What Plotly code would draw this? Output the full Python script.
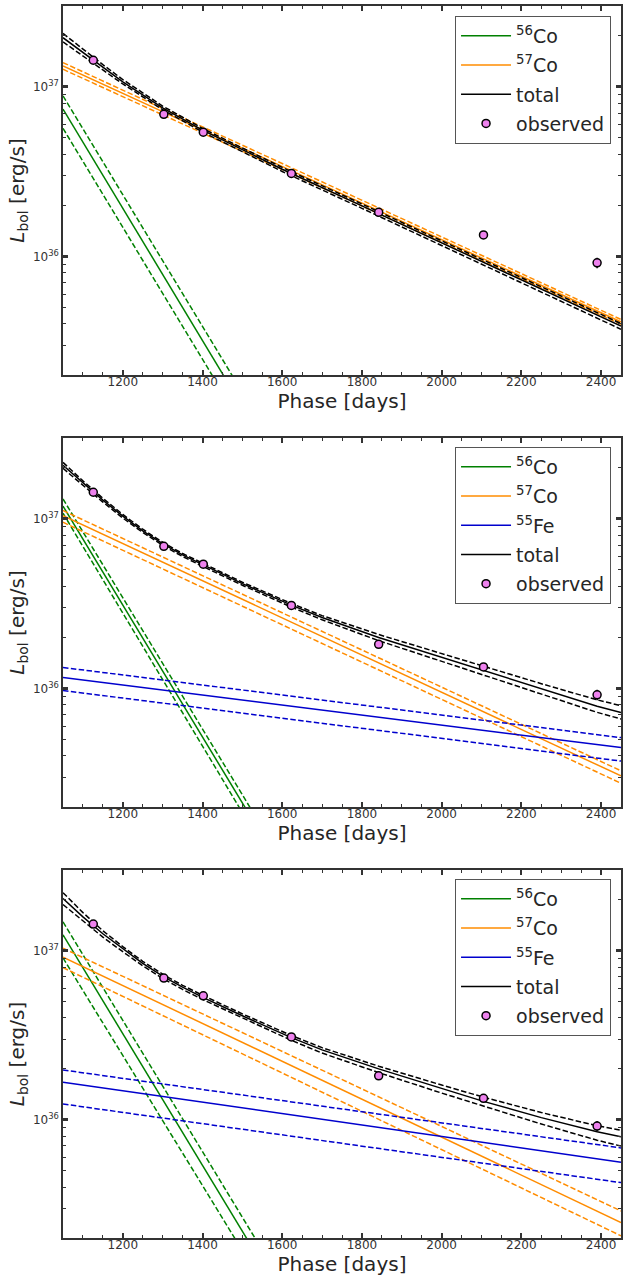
import plotly.graph_objects as go

# ---------------- data (luminosities in units of 1e36 erg/s) ----------------
UNIT = 1e36

obs_days = [1126, 1303, 1402, 1623, 1842, 2105, 2390]
obs_L = [14.36, 6.89, 5.41, 3.09, 1.82, 1.34, 0.918]
obs_err = [0.30, 0.15, 0.12, 0.07, 0.05, 0.05, 0.065]

edge_days = [1050, 2450]

# Panel 1 (56Co + 57Co)
p1_co56_days = [1050, 1500]
p1_co56 = [7.4, 0.130]
p1_co56_hi = [8.85, 0.158]
p1_co56_lo = [5.7, 0.101]
p1_co57 = [13.3, 0.411]
p1_co57_hi = [13.9, 0.425]
p1_co57_lo = [12.7, 0.398]
p1_tot_days = [1050, 1100, 1150, 1200, 1300, 1400, 1500, 1600, 1800, 2000, 2200, 2450]
p1_tot = [19.50, 15.92, 13.03, 10.72, 7.53, 5.56, 4.27, 3.27, 1.986, 1.205, 0.731, 0.389]
p1_tot_hi = [20.66, 16.67, 13.52, 11.05, 7.71, 5.69, 4.37, 3.35, 2.04, 1.239, 0.753, 0.402]
p1_tot_lo = [18.41, 15.20, 12.56, 10.40, 7.34, 5.42, 4.15, 3.17, 1.923, 1.161, 0.703, 0.372]

# Panel 2 (56Co + 57Co + 55Fe)
p2_co56_days = [1050, 1550]
p2_co56 = [11.9, 0.135]
p2_co56_hi = [13.1, 0.151]
p2_co56_lo = [10.8, 0.118]
p2_co57 = [10.45, 0.305]
p2_co57_hi = [11.2, 0.327]
p2_co57_lo = [9.55, 0.276]
p2_fe55 = [1.16, 0.448]
p2_fe55_hi = [1.33, 0.513]
p2_fe55_lo = [0.973, 0.373]
tot_days = [1050, 1100, 1150, 1200, 1250, 1303, 1350, 1402, 1500, 1623, 1700, 1842, 2000, 2105, 2250, 2390, 2450]
p2_tot = [20.70, 16.26, 12.91, 10.38, 8.51, 7.08, 6.14, 5.35, 4.15, 3.10, 2.62, 2.00, 1.524, 1.274, 0.991, 0.785, 0.721]
p2_tot_hi = [21.53, 16.75, 13.24, 10.62, 8.69, 7.21, 6.25, 5.45, 4.23, 3.17, 2.69, 2.08, 1.603, 1.356, 1.067, 0.857, 0.791]
p2_tot_lo = [19.86, 15.74, 12.56, 10.12, 8.32, 6.92, 6.00, 5.23, 4.06, 3.02, 2.54, 1.914, 1.442, 1.194, 0.921, 0.723, 0.661]

# Panel 3 (56Co + 57Co + 55Fe)
p3_co56_days = [1050, 1560]
p3_co56 = [12.4, 0.128]
p3_co56_hi = [14.8, 0.155]
p3_co56_lo = [9.06, 0.099]
p3_co57 = [9.16, 0.247]
p3_co57_hi = [10.35, 0.289]
p3_co57_lo = [7.94, 0.206]
p3_fe55 = [1.67, 0.561]
p3_fe55_hi = [1.97, 0.682]
p3_fe55_lo = [1.24, 0.425]
p3_tot = [20.32, 15.85, 12.59, 10.23, 8.41, 7.00, 6.08, 5.28, 4.12, 3.06, 2.59, 2.00, 1.528, 1.285, 1.030, 0.849, 0.793]
p3_tot_hi = [22.03, 16.79, 13.12, 10.57, 8.65, 7.18, 6.24, 5.42, 4.23, 3.15, 2.67, 2.075, 1.604, 1.361, 1.104, 0.922, 0.867]
p3_tot_lo = [18.75, 14.93, 12.02, 9.86, 8.14, 6.79, 5.90, 5.12, 3.99, 2.95, 2.48, 1.901, 1.439, 1.205, 0.944, 0.757, 0.699]

# ---------------- styling ----------------
GREEN = "#008000"
ORANGE = "#ff8c00"
BLUE = "#0000cd"
BLACK = "#000000"
LW = 1.5
DASH = "5.5px,2.4px"
FONT = "DejaVu Sans"
AXC = "#333333"


def sc(v):
    return [float(x) * UNIT for x in v]


fig = go.Figure()


def add_comp(n, days, mid, hi, lo, color, name, legend):
    xa = "x" if n == 1 else f"x{n}"
    ya = "y" if n == 1 else f"y{n}"
    for arr in (hi, lo):
        fig.add_trace(go.Scatter(x=days, y=sc(arr), mode="lines", xaxis=xa, yaxis=ya,
                                 line=dict(color=color, width=LW, dash=DASH),
                                 showlegend=False, hoverinfo="skip"))
    fig.add_trace(go.Scatter(x=days, y=sc(mid), mode="lines", xaxis=xa, yaxis=ya,
                             line=dict(color=color, width=LW),
                             name=name, legend=legend, legendgroup=f"{legend}_{name}",
                             showlegend=True))


def add_obs(n, legend):
    xa = "x" if n == 1 else f"x{n}"
    ya = "y" if n == 1 else f"y{n}"
    fig.add_trace(go.Scatter(x=obs_days, y=sc(obs_L), mode="markers", xaxis=xa, yaxis=ya,
                             error_y=dict(type="data", array=sc(obs_err), color=BLACK,
                                          thickness=1.5, width=0),
                             marker=dict(size=8, color="violet", line=dict(color=BLACK, width=1.5)),
                             name="observed", legend=legend, legendgroup=f"{legend}_obs",
                             showlegend=True))


# Panel 1
add_comp(1, p1_co56_days, p1_co56, p1_co56_hi, p1_co56_lo, GREEN, "<sup>56</sup>Co", "legend")
add_comp(1, edge_days, p1_co57, p1_co57_hi, p1_co57_lo, ORANGE, "<sup>57</sup>Co", "legend")
add_comp(1, p1_tot_days, p1_tot, p1_tot_hi, p1_tot_lo, BLACK, "total", "legend")
add_obs(1, "legend")

# Panel 2
add_comp(2, p2_co56_days, p2_co56, p2_co56_hi, p2_co56_lo, GREEN, "<sup>56</sup>Co", "legend2")
add_comp(2, edge_days, p2_co57, p2_co57_hi, p2_co57_lo, ORANGE, "<sup>57</sup>Co", "legend2")
add_comp(2, edge_days, p2_fe55, p2_fe55_hi, p2_fe55_lo, BLUE, "<sup>55</sup>Fe", "legend2")
add_comp(2, tot_days, p2_tot, p2_tot_hi, p2_tot_lo, BLACK, "total", "legend2")
add_obs(2, "legend2")

# Panel 3
add_comp(3, p3_co56_days, p3_co56, p3_co56_hi, p3_co56_lo, GREEN, "<sup>56</sup>Co", "legend3")
add_comp(3, edge_days, p3_co57, p3_co57_hi, p3_co57_lo, ORANGE, "<sup>57</sup>Co", "legend3")
add_comp(3, edge_days, p3_fe55, p3_fe55_hi, p3_fe55_lo, BLUE, "<sup>55</sup>Fe", "legend3")
add_comp(3, tot_days, p3_tot, p3_tot_hi, p3_tot_lo, BLACK, "total", "legend3")
add_obs(3, "legend3")

# ---------------- axes ----------------
PLOT_H = 1232.0
BOTTOM_PX = 1238.0


def dom(top_px, bot_px):
    return [(BOTTOM_PX - bot_px) / PLOT_H, (BOTTOM_PX - top_px) / PLOT_H]


domains = [dom(6, 375), dom(438, 807), dom(870, 1238)]

minor_y = [float(k) * 10.0 ** n for n in (35, 36, 37) for k in range(2, 10)]

for i, d in enumerate(domains, start=1):
    sx = "" if i == 1 else str(i)
    fig.layout["xaxis" + sx] = dict(
        domain=[0, 1], range=[1050, 2450], anchor="y" + sx,
        tickmode="array", tickvals=[1200, 1400, 1600, 1800, 2000, 2200, 2400],
        ticks="inside", ticklen=5, tickwidth=2, tickcolor=AXC,
        minor=dict(dtick=50, tick0=1000, ticks="inside", ticklen=3, tickwidth=1, tickcolor=AXC),
        showline=True, linecolor=AXC, linewidth=1.5, mirror="allticks",
        showgrid=False, zeroline=False,
        ticklabelstandoff=-5,
        tickfont=dict(family=FONT, size=12, color="#333333"),
        title=dict(text="Phase [days]", font=dict(family=FONT, size=20, color="#262626"), standoff=6),
    )
    fig.layout["yaxis" + sx] = dict(
        domain=d, type="log", range=[35.301, 37.477], anchor="x" + sx,
        tickmode="array", tickvals=[1e36, 1e37],
        ticktext=["10<sup>36</sup>", "10<sup>37</sup>"],
        ticks="inside", ticklen=5, tickwidth=2.5, tickcolor=AXC,
        minor=dict(tickmode="array", tickvals=minor_y, ticks="inside", ticklen=3, tickwidth=1,
                   tickcolor=AXC),
        showline=True, linecolor=AXC, linewidth=1.5, mirror="allticks",
        showgrid=False, zeroline=False,
        tickfont=dict(family=FONT, size=12, color="#333333"),
        title=dict(text="<i>L</i><sub>bol</sub> [erg/s]", font=dict(family=FONT, size=20, color="#262626"),
                   standoff=3),
    )

leg_tops = [16, 447, 879]
for i, top in enumerate(leg_tops, start=1):
    key = "legend" if i == 1 else f"legend{i}"
    fig.layout[key] = dict(
        x=(613 - 63) / 560.0, xanchor="right",
        y=(BOTTOM_PX - top) / PLOT_H, yanchor="top",
        bgcolor="rgba(255,255,255,0.8)", bordercolor="#555555", borderwidth=1,
        font=dict(family=FONT, size=19, color="#262626"),
        traceorder="grouped", tracegroupgap=1.5, itemwidth=50,
    )

fig.update_layout(
    width=623, height=1277,
    margin=dict(l=63, r=0, t=6, b=39),
    paper_bgcolor="white", plot_bgcolor="white",
    font=dict(family=FONT, color="#262626"),
)

fig.write_html("out.html")
